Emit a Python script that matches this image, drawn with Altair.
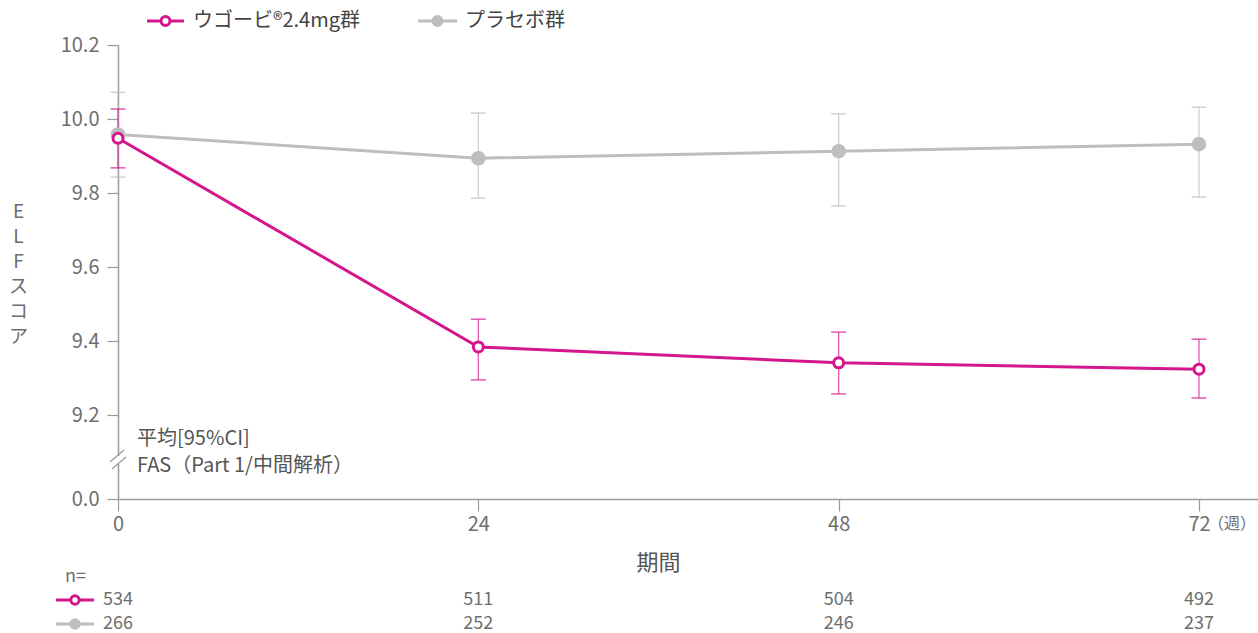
import altair as alt
import pandas as pd

# ---------------- data ----------------
weeks = [0, 24, 48, 72]
series = ["ウゴービ®2.4mg群", "プラセボ群"]

wegovy_mean = [9.948, 9.384, 9.341, 9.324]
wegovy_lo = [9.868, 9.295, 9.257, 9.246]
wegovy_hi = [10.027, 9.459, 9.424, 9.405]

placebo_mean = [9.958, 9.894, 9.913, 9.932]
placebo_lo = [9.843, 9.786, 9.765, 9.789]
placebo_hi = [10.072, 10.016, 10.014, 10.032]

wegovy_n = [534, 511, 504, 492]
placebo_n = [266, 252, 246, 237]

y_ticks = [9.2, 9.4, 9.6, 9.8, 10.0, 10.2]
y_floor = 8.973  # where the broken axis shows "0.0"
x_ticks = [0, 24, 48, 72]

# ---------------- styles ----------------
MAG = "#D4168C"
GRY = "#BDBEC0"
TXT = "#6E6E6E"
AXC = "#9A9A9A"
FONT = "Noto Sans CJK JP"

rows = []
for s, m, lo, hi in [
    (series[1], placebo_mean, placebo_lo, placebo_hi),
    (series[0], wegovy_mean, wegovy_lo, wegovy_hi),
]:
    for w, a, b, c in zip(weeks, m, lo, hi):
        rows.append({"series": s, "week": w, "mean": a, "lo": b, "hi": c})
df = pd.DataFrame(rows)

n_rows = []
for s, ns in [(series[0], wegovy_n), (series[1], placebo_n)]:
    for w, n in zip(weeks, ns):
        n_rows.append({"series": s, "week": w, "n": str(n)})
ndf = pd.DataFrame(n_rows)

xscale = alt.Scale(domain=[0, 75.93], nice=False, zero=False)
yscale = alt.Scale(domain=[y_floor, 10.2], nice=False, zero=False)
color_scale = alt.Scale(domain=series, range=[MAG, GRY])
fill_scale = alt.Scale(domain=series, range=["white", GRY])
size_scale = alt.Scale(domain=series, range=[100, 135])

x_enc = alt.X(
    "week:Q",
    scale=xscale,
    axis=alt.Axis(
        values=x_ticks,
        title="期間",
        titleX=540,
        titleY=63,
        titleBaseline="middle",
        titleFontSize=22,
        titleColor="#555555",
        titleFontWeight="normal",
        labelFontSize=20,
        labelColor=TXT,
        labelPadding=3,
        labelFlush=False,
        tickSize=12,
        tickColor=AXC,
        domainColor=AXC,
        domainWidth=1.5,
        tickWidth=1.2,
        grid=False,
    ),
)

y_axis = alt.Axis(
    values=[y_floor] + y_ticks,
    labelExpr="datum.value < 9 ? '0.0' : format(datum.value, '.1f')",
    title=["E", "L", "F", "ス", "コ", "ア"],
    titleAngle=0,
    titleX=-100,
    titleY=157,
    titleAlign="center",
    titleBaseline="top",
    titleLineHeight=25,
    titleFontSize=19,
    titleFontWeight="normal",
    titleColor=TXT,
    labelFontSize=20,
    labelColor=TXT,
    labelPadding=8,
    labelFlush=False,
    tickSize=11,
    tickColor=AXC,
    tickWidth=1.2,
    domainColor=AXC,
    domainWidth=1.5,
    grid=False,
)

base = alt.Chart(df)

err = base.mark_rule(strokeWidth=1.3, opacity=0.7).encode(
    x=x_enc,
    y=alt.Y("lo:Q", scale=yscale, axis=y_axis),
    y2="hi:Q",
    color=alt.Color("series:N", scale=color_scale, legend=None),
)
cap_lo = base.mark_tick(orient="horizontal", size=15, thickness=1.5, opacity=0.7).encode(
    x="week:Q", y="lo:Q", color=alt.Color("series:N", scale=color_scale, legend=None)
)
cap_hi = base.mark_tick(orient="horizontal", size=15, thickness=1.5, opacity=0.7).encode(
    x="week:Q", y="hi:Q", color=alt.Color("series:N", scale=color_scale, legend=None)
)

lines = base.mark_line(strokeWidth=3).encode(
    x="week:Q",
    y="mean:Q",
    color=alt.Color("series:N", scale=color_scale, legend=None),
    detail="series:N",
)

points = base.mark_point(filled=True, strokeWidth=3, opacity=1, shape="circle").encode(
    x="week:Q",
    y="mean:Q",
    fill=alt.Fill("series:N", scale=fill_scale, legend=None),
    stroke=alt.Stroke("series:N", scale=color_scale, legend=None),
    size=alt.Size("series:N", scale=size_scale, legend=None),
)

one = pd.DataFrame({"k": [0]})

# axis break: white gap and two slashes
gap = alt.Chart(one).mark_rule(color="white", strokeWidth=4).encode(
    x=alt.value(0), y=alt.value(411), y2=alt.value(419)
)
slash1 = alt.Chart(one).mark_rule(color=AXC, strokeWidth=1.3).encode(
    x=alt.value(-8), y=alt.value(417), x2=alt.value(6), y2=alt.value(405)
)
slash2 = alt.Chart(one).mark_rule(color=AXC, strokeWidth=1.3).encode(
    x=alt.value(-6), y=alt.value(424), x2=alt.value(8), y2=alt.value(412)
)


def label(text, x, y, size, color=TXT, align="left"):
    return alt.Chart(pd.DataFrame({"t": [text]})).mark_text(
        align=align, baseline="middle", fontSize=size, color=color, font=FONT
    ).encode(x=alt.value(x), y=alt.value(y), text="t:N")


def symbol(color, fill, x0, x1, y, size):
    ln = alt.Chart(one).mark_rule(color=color, strokeWidth=3).encode(
        x=alt.value(x0), x2=alt.value(x1), y=alt.value(y)
    )
    pt = alt.Chart(one).mark_point(
        filled=True, fill=fill, stroke=color, strokeWidth=3, size=size, opacity=1
    ).encode(x=alt.value((x0 + x1) / 2), y=alt.value(y))
    return [ln, pt]


note1 = label("平均[95%CI]", 19, 394, 20, "#555555")
note2 = label("FAS（Part 1/中間解析）", 19, 421, 20, "#555555")
unit = label("（週）", 1090, 479, 16)

# legend (top)
legend_layers = (
    symbol(MAG, "white", 29, 66, -24, 80)
    + [label(series[0], 75, -24, 20, "#444444")]
    + symbol(GRY, GRY, 300, 339, -24, 80)
    + [label(series[1], 347, -24, 20, "#444444")]
)

# n table
n_label = label("n=", -53, 532, 18)
n_mag = alt.Chart(ndf[ndf.series == series[0]]).mark_text(
    align="center", baseline="middle", fontSize=18, color=TXT, font=FONT
).encode(x="week:Q", y=alt.value(555), text="n:N")
n_gry = alt.Chart(ndf[ndf.series == series[1]]).mark_text(
    align="center", baseline="middle", fontSize=18, color=TXT, font=FONT
).encode(x="week:Q", y=alt.value(579), text="n:N")
n_syms = symbol(MAG, "white", -62, -24, 555, 70) + symbol(GRY, GRY, -62, -24, 579, 70)

chart = alt.layer(
    err, cap_lo, cap_hi, lines, points,
    gap, slash1, slash2, note1, note2, unit,
    *legend_layers,
    n_label, n_mag, n_gry, *n_syms,
).properties(
    width=1140,
    height=454,
    autosize=alt.AutoSizeParams(type="none"),
    padding={"left": 118, "top": 45, "right": 0, "bottom": 134},
).configure(
    font=FONT,
).configure_view(
    stroke=None
)

chart.save("out.html", embed_options={"renderer": "svg", "actions": False})
